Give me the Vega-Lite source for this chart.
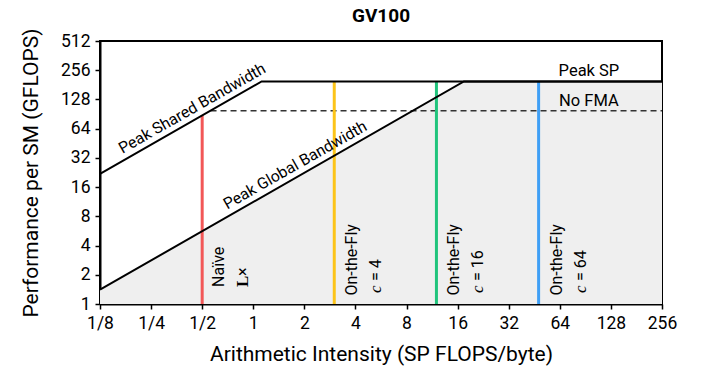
{
  "$schema": "https://vega.github.io/schema/vega-lite/v6.json",
  "width": 562,
  "height": 263,
  "autosize": "none",
  "padding": {"left": 100, "top": 41, "right": 51, "bottom": 71},
  "background": "white",
  "title": {"text": "GV100", "font": "Roboto", "fontSize": 19, "fontWeight": "bold", "anchor": "middle", "offset": 15, "baseline": "alphabetic", "dy": 28, "color": "#000"},
  "config": {
    "view": {"stroke": "#000", "strokeWidth": 2},
    "axis": {"grid": false, "domainColor": "#000", "domainWidth": 2, "tickColor": "#000", "tickWidth": 1.5, "tickSize": 5, "labelFont": "Roboto", "labelFontSize": 17.5, "labelColor": "#000", "titleFont": "Roboto", "titleFontSize": 21, "titleFontWeight": "normal", "titleColor": "#000"}
  },
  "datasets": {
    "global": [{"x": 0.125, "y": 1.406}, {"x": 17.42, "y": 196}, {"x": 256, "y": 196}],
    "shared": [{"x": 0.125, "y": 21.9}, {"x": 1.12, "y": 196}, {"x": 256, "y": 196}],
    "nofma": [{"x": 0.56, "y": 98}, {"x": 256, "y": 98}],
    "impl": [
      {"x": 0.5, "bottom": 1, "top": 87.5, "name": "Naive", "l1": "Naïve", "l2a": "L", "l2b": "×"},
      {"x": 3, "bottom": 1, "top": 196, "name": "c4", "l1": "On-the-Fly", "l2a": "c", "l2b": "= 4"},
      {"x": 12, "bottom": 1, "top": 196, "name": "c16", "l1": "On-the-Fly", "l2a": "c", "l2b": "= 16"},
      {"x": 48, "bottom": 1, "top": 196, "name": "c64", "l1": "On-the-Fly", "l2a": "c", "l2b": "= 64"}
    ],
    "rooflabels": [
      {"x": 0.47, "y": 82.3, "t": "Peak Shared Bandwidth"},
      {"x": 1.9, "y": 21.4, "t": "Peak Global Bandwidth"}
    ],
    "hlabels": [
      {"x": 95, "y": 196, "t": "Peak SP"},
      {"x": 95, "y": 98, "t": "No FMA"}
    ]
  },
  "layer": [
    {
      "data": {"name": "global"},
      "mark": {"type": "area", "color": "#efefef", "opacity": 1},
      "encoding": {
        "x": {"field": "x", "type": "quantitative", "scale": {"type": "log", "base": 2, "domain": [0.125, 256], "nice": false},
          "axis": {"values": [0.125, 0.25, 0.5, 1, 2, 4, 8, 16, 32, 64, 128, 256], "labelExpr": "datum.value < 1 ? '1/' + round(1/datum.value) : datum.value", "title": "Arithmetic Intensity (SP FLOPS/byte)", "labelPadding": 5, "titlePadding": 12, "labelFlush": false}},
        "y": {"field": "y", "type": "quantitative", "scale": {"type": "log", "base": 2, "domain": [1, 512], "nice": false},
          "axis": {"values": [1, 2, 4, 8, 16, 32, 64, 128, 256, 512], "title": "Performance per SM (GFLOPS)", "labelPadding": 5, "titlePadding": 19, "labelFlush": false}},
        "y2": {"datum": 1}
      }
    },
    {
      "data": {"name": "nofma"},
      "mark": {"type": "line", "color": "#333", "strokeWidth": 1.5, "strokeDash": [6, 4]},
      "encoding": {"x": {"field": "x", "type": "quantitative"}, "y": {"field": "y", "type": "quantitative"}}
    },
    {
      "data": {"name": "impl"},
      "mark": {"type": "rule", "strokeWidth": 3},
      "encoding": {
        "x": {"field": "x", "type": "quantitative"},
        "y": {"field": "bottom", "type": "quantitative"},
        "y2": {"field": "top"},
        "color": {"field": "name", "type": "nominal", "legend": null,
          "scale": {"domain": ["Naive", "c4", "c16", "c64"], "range": ["#f25757", "#fcc419", "#20c47c", "#3f9ff5"]}}
      }
    },
    {
      "data": {"name": "global"},
      "mark": {"type": "line", "color": "#000", "strokeWidth": 2},
      "encoding": {"x": {"field": "x", "type": "quantitative"}, "y": {"field": "y", "type": "quantitative"}}
    },
    {
      "data": {"name": "shared"},
      "mark": {"type": "line", "color": "#000", "strokeWidth": 2},
      "encoding": {"x": {"field": "x", "type": "quantitative"}, "y": {"field": "y", "type": "quantitative"}}
    },
    {
      "data": {"name": "rooflabels"},
      "mark": {"type": "text", "font": "Roboto", "fontSize": 15.8, "angle": -29.7, "align": "center", "baseline": "alphabetic", "dy": -6, "color": "#000"},
      "encoding": {"x": {"field": "x", "type": "quantitative"}, "y": {"field": "y", "type": "quantitative"}, "text": {"field": "t"}}
    },
    {
      "data": {"name": "hlabels"},
      "mark": {"type": "text", "font": "Roboto", "fontSize": 16.5, "align": "center", "baseline": "alphabetic", "dy": -5, "color": "#000"},
      "encoding": {"x": {"field": "x", "type": "quantitative"}, "y": {"field": "y", "type": "quantitative"}, "text": {"field": "t"}}
    },
    {
      "data": {"name": "impl"},
      "transform": [{"filter": "datum.name == 'Naive'"}],
      "mark": {"type": "text", "font": "Roboto", "fontSize": 16, "angle": 270, "align": "left", "baseline": "middle", "dy": 17, "color": "#000"},
      "encoding": {"x": {"field": "x", "type": "quantitative"}, "y": {"datum": 1.5, "type": "quantitative"}, "text": {"field": "l1"}}
    },
    {
      "data": {"name": "impl"},
      "transform": [{"filter": "datum.name == 'Naive'"}],
      "mark": {"type": "text", "font": "Liberation Serif", "fontSize": 17, "fontWeight": "bold", "angle": 270, "align": "left", "baseline": "middle", "dy": 41, "color": "#000"},
      "encoding": {"x": {"field": "x", "type": "quantitative"}, "y": {"datum": 1.5, "type": "quantitative"}, "text": {"field": "l2a"}}
    },
    {
      "data": {"name": "impl"},
      "transform": [{"filter": "datum.name == 'Naive'"}],
      "mark": {"type": "text", "font": "Roboto", "fontSize": 16, "angle": 270, "align": "left", "baseline": "middle", "dy": 41, "dx": 11, "color": "#000"},
      "encoding": {"x": {"field": "x", "type": "quantitative"}, "y": {"datum": 1.5, "type": "quantitative"}, "text": {"field": "l2b"}}
    },
    {
      "data": {"name": "impl"},
      "transform": [{"filter": "datum.name != 'Naive'"}],
      "mark": {"type": "text", "font": "Roboto", "fontSize": 16, "angle": 270, "align": "left", "baseline": "middle", "dy": 18, "color": "#000"},
      "encoding": {"x": {"field": "x", "type": "quantitative"}, "y": {"datum": 1.22, "type": "quantitative"}, "text": {"field": "l1"}}
    },
    {
      "data": {"name": "impl"},
      "transform": [{"filter": "datum.name != 'Naive'"}],
      "mark": {"type": "text", "font": "Liberation Serif", "fontSize": 17, "fontStyle": "italic", "angle": 270, "align": "left", "baseline": "middle", "dy": 42, "color": "#000"},
      "encoding": {"x": {"field": "x", "type": "quantitative"}, "y": {"datum": 1.3, "type": "quantitative"}, "text": {"field": "l2a"}}
    },
    {
      "data": {"name": "impl"},
      "transform": [{"filter": "datum.name != 'Naive'"}],
      "mark": {"type": "text", "font": "Roboto", "fontSize": 16, "angle": 270, "align": "left", "baseline": "middle", "dy": 42, "dx": 12, "color": "#000"},
      "encoding": {"x": {"field": "x", "type": "quantitative"}, "y": {"datum": 1.3, "type": "quantitative"}, "text": {"field": "l2b"}}
    }
  ]
}
